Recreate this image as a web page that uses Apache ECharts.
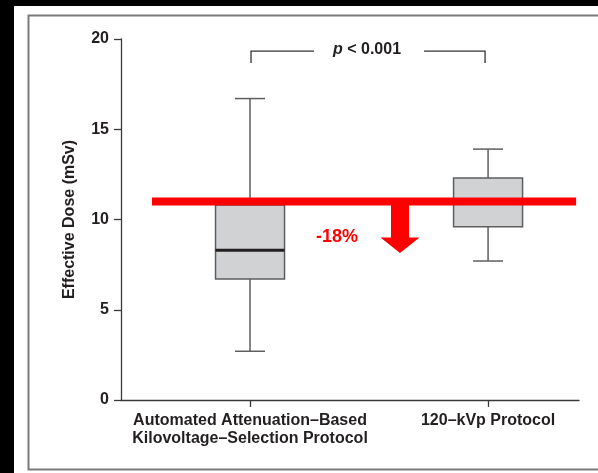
<!DOCTYPE html>
<html>
<head>
<meta charset="utf-8">
<script src="https://cdn.jsdelivr.net/npm/echarts@6/dist/echarts.min.js"></script>
<style>
  html, body { margin: 0; padding: 0; background: #fff; }
  #chart { width: 598px; height: 473px; }
</style>
</head>
<body>
<div id="chart"></div>
<script>
// Effective dose by protocol (box-and-whisker summary, mSv)
const categories = [
  'Automated Attenuation\u2013Based\nKilovoltage\u2013Selection Protocol',
  '120\u2013kVp Protocol'
];
const doseMin    = [2.7, 7.7];
const doseQ1     = [6.7, 9.6];
const doseMedian = [8.3, 11.0];
const doseQ3     = [10.8, 12.3];
const doseMax    = [16.7, 13.9];

const yTicks = [0, 5, 10, 15, 20];

// Reference level (120-kVp median) and the reduction annotation
const refDose = [11.0];
const reductionText = ['-18%'];
const reducedDose = [9.0];
const arrowTipDose = [8.15];
const pValueText = ['p < 0.001'];
const bracketDose = [19.33, 18.67];

const TEXT = '#231f20';
const FONT = '"Liberation Sans", Arial, Helvetica, sans-serif';

const boxData = categories.map((c, i) => [i, doseMin[i], doseQ1[i], doseMedian[i], doseQ3[i], doseMax[i]]);

function renderBox(params, api) {
  const x = api.value(0);
  const pMin = api.coord([x, api.value(1)]);
  const pQ1 = api.coord([x, api.value(2)]);
  const pMed = api.coord([x, api.value(3)]);
  const pQ3 = api.coord([x, api.value(4)]);
  const pMax = api.coord([x, api.value(5)]);
  const cx = pMin[0];
  const hw = 34.5, cap = 15;
  const wStyle = { stroke: '#5e5e5e', lineWidth: 1.5 };
  return {
    type: 'group',
    children: [
      { type: 'line', shape: { x1: cx, y1: pMax[1], x2: cx, y2: pQ3[1] }, style: wStyle },
      { type: 'line', shape: { x1: cx, y1: pQ1[1], x2: cx, y2: pMin[1] }, style: wStyle },
      { type: 'line', shape: { x1: cx - cap, y1: pMax[1], x2: cx + cap, y2: pMax[1] }, style: wStyle },
      { type: 'line', shape: { x1: cx - cap, y1: pMin[1], x2: cx + cap, y2: pMin[1] }, style: wStyle },
      { type: 'rect', shape: { x: cx - hw, y: pQ3[1], width: hw * 2, height: pQ1[1] - pQ3[1] },
        style: { fill: '#d1d2d4', stroke: '#5e5e5e', lineWidth: 1.5 } },
      { type: 'line', shape: { x1: cx - hw, y1: pMed[1], x2: cx + hw, y2: pMed[1] },
        style: { stroke: '#231f20', lineWidth: 3 } }
    ]
  };
}

// Horizontal reference bar, downward arrow, percentage and significance bracket
const refSpan = [-0.412, 1.37];
const arrowX = 0.63;

function renderNotes(params, api) {
  const l = api.coord([refSpan[0], refDose[0]]);
  const r = api.coord([refSpan[1], refDose[0]]);
  const aTop = api.coord([arrowX, refDose[0]]);
  const aTip = api.coord([arrowX, arrowTipDose[0]]);
  const aHead = api.coord([arrowX, reducedDose[0]]);
  const ax = aTop[0];
  const sw = 9, hw = 19.5;
  const b0 = api.coord([0, bracketDose[0]]);
  const b1 = api.coord([1, bracketDose[0]]);
  const bLow = api.coord([0, bracketDose[1]]);
  const mid = (b0[0] + b1[0]) / 2;
  const gap = 55;
  const bStyle = { stroke: '#333', lineWidth: 1.3, fill: 'none' };
  return {
    type: 'group',
    children: [
      { type: 'polygon', shape: { points: [
          [ax - sw, aTop[1]], [ax + sw, aTop[1]], [ax + sw, aHead[1]], [ax + hw, aHead[1]],
          [ax, aTip[1]], [ax - hw, aHead[1]], [ax - sw, aHead[1]] ] },
        style: { fill: '#ff0000' } },
      { type: 'rect', shape: { x: l[0], y: l[1] - 4, width: r[0] - l[0], height: 8 },
        style: { fill: '#ff0000' } },
      { type: 'text', x: ax - 42, y: aHead[1] - 1,
        style: { text: reductionText[0], fill: '#ff0000', font: 'bold 18px ' + FONT,
          align: 'right', verticalAlign: 'middle' } },
      { type: 'polyline', shape: { points: [[b0[0] + 1, bLow[1]], [b0[0] + 1, b0[1]], [mid - gap, b0[1]]] }, style: bStyle },
      { type: 'polyline', shape: { points: [[mid + gap, b1[1]], [b1[0] - 3, b1[1]], [b1[0] - 3, bLow[1]]] }, style: bStyle },
      { type: 'text', x: mid - 2, y: b0[1] - 1,
        style: { text: '{i|p} < 0.001', fill: TEXT, font: 'bold 16px ' + FONT,
          align: 'center', verticalAlign: 'middle',
          rich: { i: { fontStyle: 'italic', fontWeight: 'bold', fontSize: 16, fontFamily: FONT, fill: TEXT } } } }
    ]
  };
}

const chart = echarts.init(document.getElementById('chart'), null, { renderer: 'canvas' });
chart.setOption({
  backgroundColor: '#ffffff',
  animation: false,
  grid: { left: 121, right: 19, top: 39, bottom: 73, containLabel: false },
  xAxis: {
    type: 'value',
    min: -0.542,
    max: 1.382,
    splitLine: { show: false },
    axisLine: { show: true, onZero: false, lineStyle: { color: '#3a3a3a', width: 1.3 } },
    axisTick: { show: true, length: 7, customValues: [0, 1], lineStyle: { color: '#3a3a3a', width: 1.3 } },
    axisLabel: {
      customValues: [0, 1],
      formatter: v => categories[Math.round(v)],
      margin: 12,
      color: TEXT,
      fontFamily: FONT,
      fontWeight: 'bold',
      fontSize: 16,
      lineHeight: 18,
      align: 'center'
    }
  },
  yAxis: {
    type: 'value',
    min: yTicks[0],
    max: yTicks[yTicks.length - 1],
    interval: 5,
    name: 'Effective Dose (mSv)',
    nameLocation: 'middle',
    nameGap: 43,
    nameTextStyle: { color: TEXT, fontFamily: FONT, fontWeight: 'bold', fontSize: 16 },
    splitLine: { show: false },
    axisLine: { show: true, onZero: false, lineStyle: { color: '#3a3a3a', width: 1.3 } },
    axisTick: { show: true, length: 7, lineStyle: { color: '#3a3a3a', width: 1.3 } },
    axisLabel: { margin: 12, color: TEXT, fontFamily: FONT, fontWeight: 'bold', fontSize: 16 }
  },
  graphic: [
    { type: 'rect', left: 0, top: 0, shape: { width: 598, height: 6 }, style: { fill: '#000' }, z: 100 },
    { type: 'rect', left: 0, top: 0, shape: { width: 14, height: 473 }, style: { fill: '#000' }, z: 100 },
    { type: 'rect', left: 26, top: 13, shape: { width: 600, height: 454 },
      style: { fill: 'none', stroke: '#7a7a7a', lineWidth: 2 }, z: 100 }
  ],
  series: [
    {
      type: 'custom',
      name: 'dose',
      renderItem: renderBox,
      encode: { x: 0, y: [1, 2, 3, 4, 5] },
      data: boxData,
      z: 2
    },
    {
      type: 'custom',
      name: 'notes',
      renderItem: renderNotes,
      data: [[0, refDose[0]]],
      encode: { x: 0, y: 1 },
      clip: false,
      z: 5
    }
  ]
});
</script>
</body>
</html>
